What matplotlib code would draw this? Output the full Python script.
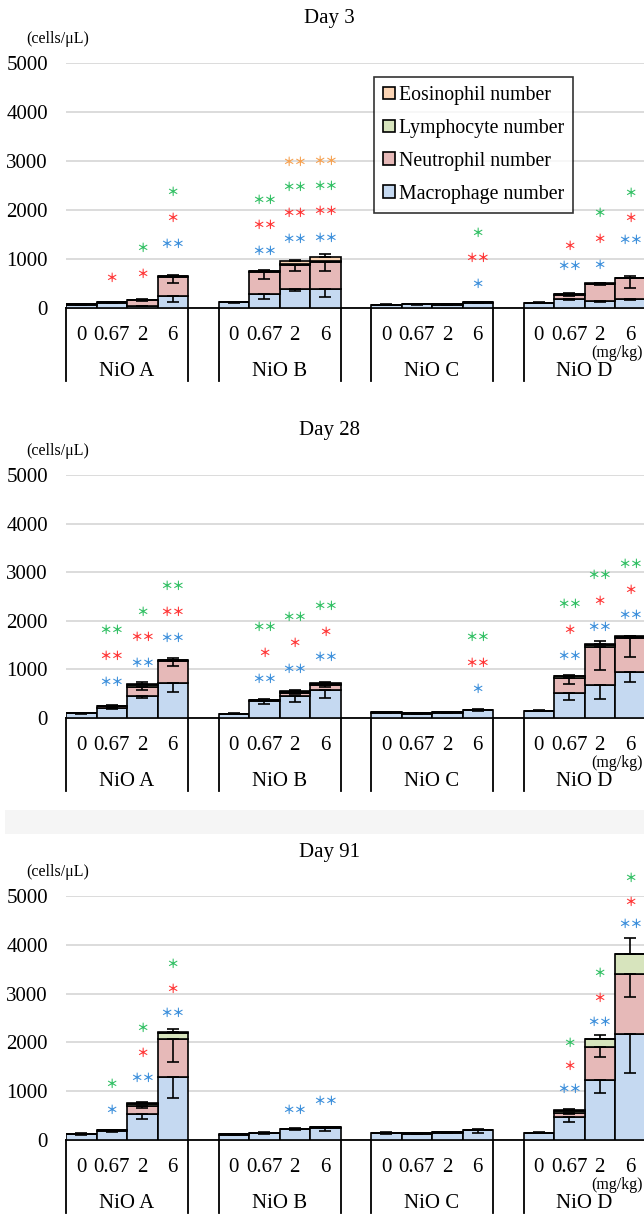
import numpy as np
import matplotlib.pyplot as plt
from matplotlib.patches import Rectangle

plt.rcParams['font.family'] = ['Liberation Serif', 'DejaVu Serif']

# --- DATA (cells/uL) ---
# 16 bars per panel: NiO A, B, C, D  x  dose 0, 0.67, 2, 6 mg/kg
groups = ["NiO A", "NiO B", "NiO C", "NiO D"]
doses = ["0", "0.67", "2", "6"]
days = ["Day 3", "Day 28", "Day 91"]
cell_names = ["Macrophage number", "Neutrophil number", "Lymphocyte number", "Eosinophil number"]

mac_d3 = [60, 110, 50, 248, 115, 290, 386, 393, 60, 75, 70, 105, 105, 193, 150, 185]
neu_d3 = [20, 14, 110, 393, 9, 448, 483, 538, 9, 8, 6, 15, 5, 70, 340, 420]
lym_d3 = [0, 0, 8, 8, 0, 12, 30, 25, 0, 0, 0, 0, 0, 15, 8, 10]
eos_d3 = [0, 0, 5, 6, 0, 9, 65, 85, 0, 0, 0, 0, 0, 12, 5, 6]
mac_err_d3 = [5, 8, 15, 131, 8, 97, 34, 165, 5, 5, 5, 10, 5, 34, 25, 20]
neu_err_d3 = [0, 0, 20, 138, 0, 152, 124, 179, 0, 0, 0, 0, 0, 20, 28, 193]
top_err_d3 = [5, 8, 10, 10, 5, 10, 20, 56, 5, 5, 5, 8, 5, 10, 10, 27]

mac_d28 = [95, 207, 462, 724, 85, 352, 455, 579, 110, 90, 108, 155, 145, 514, 678, 938]
neu_d28 = [8, 30, 172, 455, 5, 15, 62, 90, 13, 6, 8, 16, 6, 301, 774, 699]
lym_d28 = [0, 10, 55, 15, 0, 8, 25, 30, 0, 0, 0, 0, 0, 40, 60, 30]
eos_d28 = [0, 8, 8, 6, 0, 4, 10, 11, 0, 0, 0, 0, 0, 15, 9, 11]
mac_err_d28 = [8, 30, 48, 186, 5, 55, 117, 172, 10, 5, 5, 20, 5, 144, 294, 191]
neu_err_d28 = [0, 10, 48, 110, 0, 5, 20, 30, 0, 0, 0, 0, 0, 123, 473, 384]
top_err_d28 = [5, 10, 41, 28, 5, 10, 20, 21, 8, 5, 5, 10, 5, 20, 61, 14]

mac_d91 = [120, 190, 529, 1292, 110, 140, 225, 250, 140, 130, 148, 195, 145, 464, 1222, 2164]
neu_d91 = [11, 16, 172, 770, 7, 11, 9, 11, 10, 7, 9, 17, 5, 96, 689, 1235]
lym_d91 = [0, 0, 45, 140, 0, 0, 0, 0, 0, 0, 0, 0, 0, 40, 150, 410]
eos_d91 = [0, 0, 10, 4, 0, 0, 0, 0, 0, 0, 0, 0, 0, 14, 7, 7]
mac_err_d91 = [8, 25, 89, 426, 8, 15, 10, 64, 8, 8, 8, 50, 8, 95, 260, 799]
neu_err_d91 = [0, 0, 55, 454, 0, 0, 0, 0, 0, 0, 0, 0, 0, 34, 218, 464]
top_err_d91 = [5, 8, 28, 76, 5, 8, 8, 15, 5, 5, 5, 20, 5, 21, 89, 321]

# significance marks: (bar index, cell type, label, height in cells/uL)
sig_d3 = [(1, 'neu', '*', 612),
          (2, 'neu', '*', 694), (2, 'lym', '*', 1224),
          (3, 'mac', '**', 1306), (3, 'neu', '*', 1823), (3, 'lym', '*', 2361),
          (5, 'mac', '**', 1156), (5, 'neu', '**', 1680), (5, 'lym', '**', 2204),
          (6, 'mac', '**', 1408), (6, 'neu', '**', 1939), (6, 'lym', '**', 2463), (6, 'eos', '**', 2980),
          (7, 'mac', '**', 1429), (7, 'neu', '**', 1966), (7, 'lym', '**', 2483), (7, 'eos', '**', 3000),
          (11, 'mac', '*', 476), (11, 'neu', '**', 1014), (11, 'lym', '*', 1531),
          (13, 'mac', '**', 850), (13, 'neu', '*', 1259),
          (14, 'mac', '*', 871), (14, 'neu', '*', 1395), (14, 'lym', '*', 1925),
          (15, 'mac', '**', 1381), (15, 'neu', '*', 1837), (15, 'lym', '*', 2347)]
sig_d28 = [(1, 'mac', '**', 738), (1, 'neu', '**', 1276), (1, 'lym', '**', 1807),
           (2, 'mac', '**', 1124), (2, 'neu', '**', 1648), (2, 'lym', '*', 2179),
           (3, 'mac', '**', 1628), (3, 'neu', '**', 2166), (3, 'lym', '**', 2697),
           (5, 'mac', '**', 800), (5, 'neu', '*', 1331), (5, 'lym', '**', 1862),
           (6, 'mac', '**', 1007), (6, 'neu', '*', 1538), (6, 'lym', '**', 2069),
           (7, 'mac', '**', 1241), (7, 'neu', '*', 1766), (7, 'lym', '**', 2297),
           (11, 'mac', '*', 596), (11, 'neu', '**', 1123), (11, 'lym', '**', 1658),
           (13, 'mac', '**', 1267), (13, 'neu', '*', 1795), (13, 'lym', '**', 2329),
           (14, 'mac', '**', 1870), (14, 'neu', '*', 2404), (14, 'lym', '**', 2932),
           (15, 'mac', '**', 2103), (15, 'neu', '*', 2630), (15, 'lym', '**', 3164)]
sig_d91 = [(1, 'mac', '*', 600), (1, 'lym', '*', 1138),
           (2, 'mac', '**', 1269), (2, 'neu', '*', 1779), (2, 'lym', '*', 2290),
           (3, 'mac', '**', 2600), (3, 'neu', '*', 3090), (3, 'lym', '*', 3607),
           (6, 'mac', '**', 614), (7, 'mac', '**', 800),
           (13, 'mac', '**', 1038), (13, 'neu', '*', 1502), (13, 'lym', '*', 1980),
           (14, 'mac', '**', 2403), (14, 'neu', '*', 2901), (14, 'lym', '*', 3406),
           (15, 'mac', '**', 4416), (15, 'neu', '*', 4867), (15, 'lym', '*', 5358)]

panels = [
    (mac_d3, neu_d3, lym_d3, eos_d3, mac_err_d3, neu_err_d3, top_err_d3, sig_d3),
    (mac_d28, neu_d28, lym_d28, eos_d28, mac_err_d28, neu_err_d28, top_err_d28, sig_d28),
    (mac_d91, neu_d91, lym_d91, eos_d91, mac_err_d91, neu_err_d91, top_err_d91, sig_d91),
]

# --- STYLE ---
bar_colors = ['#C5D9F1', '#E6B9B8', '#D7E4BD', '#FCD5B5']
star_colors = {'mac': '#3A8EDB', 'neu': '#FF3434', 'lym': '#2FBF62', 'eos': '#F6A04E'}

W, H = 644, 1214
left_px = 66
slot_px = 30.5
zero_px = [308, 718, 1140]     # pixel row of y=0 per panel
top_px = [63, 475, 896]        # pixel row of y=5000 per panel
fs = 15

fig = plt.figure(figsize=(W / 100, H / 100), dpi=100)

# faint grey strip above the Day 91 panel
fig.patches.append(Rectangle((5 / W, 1 - 834 / H), (W - 5) / W, 24 / H,
                             transform=fig.transFigure, facecolor='#F5F5F5',
                             edgecolor='none', zorder=-5))

idx = np.arange(16)
xpos = 5 * (idx // 4) + (idx % 4) + 0.5

for p, (mac, neu, lym, eos, mac_err, neu_err, top_err, sig) in enumerate(panels):
    h_px = zero_px[p] - top_px[p]
    ax = fig.add_axes([left_px / W, (H - zero_px[p]) / H, (W - left_px) / W, h_px / H])
    ax.set_facecolor('none')

    mac = np.array(mac); neu = np.array(neu); lym = np.array(lym); eos = np.array(eos)
    bottoms = [np.zeros(16), mac, mac + neu, mac + neu + lym]
    for k, vals in enumerate([mac, neu, lym, eos]):
        ax.bar(xpos, vals, width=1.0, bottom=bottoms[k], color=bar_colors[k],
               edgecolor='black', linewidth=1.2, label=cell_names[k], zorder=3)

    z = np.zeros(16)
    ekw = dict(fmt='none', ecolor='black', elinewidth=1.2, capsize=4.5, capthick=1.2, zorder=4)
    ax.errorbar(xpos, mac, yerr=[mac_err, z], **ekw)
    ax.errorbar(xpos, mac + neu, yerr=[neu_err, z], **ekw)
    ax.errorbar(xpos, mac + neu + lym + eos, yerr=[z, top_err], **ekw)

    # significance stars
    for (bi, kind, lab, yv) in sig:
        ax.text(xpos[bi], yv, lab.replace('*', '＊'), color=star_colors[kind],
                family=['Noto Sans CJK JP', 'DejaVu Sans'], fontsize=8.8, fontweight='bold',
                ha='center', va='center', zorder=5, clip_on=False)

    ax.set_xlim(0, (W - left_px) / slot_px)
    ax.set_ylim(0, 5000)
    ax.set_yticks(range(0, 5001, 1000))
    ax.set_xticks([])
    ax.tick_params(axis='y', length=0, pad=13, labelsize=fs)
    ax.yaxis.grid(True, color='#D9D9D9', linewidth=1.3, zorder=0)
    ax.set_axisbelow(True)
    for s in ['left', 'right', 'top']:
        ax.spines[s].set_visible(False)
    ax.spines['bottom'].set_linewidth(1.3)

    # category boxes below the axis
    tr = ax.get_xaxis_transform()
    for g in range(4):
        for xe in (5 * g, 5 * g + 4):
            ax.plot([xe, xe], [0, -73 / h_px], transform=tr, clip_on=False,
                    color='black', linewidth=1.3)
        ax.annotate(groups[g], xy=(5 * g + 2, 0), xycoords=tr, xytext=(0, -63),
                    textcoords='offset pixels', ha='center', va='center', fontsize=fs)
    for i in range(16):
        ax.annotate(doses[i % 4], xy=(xpos[i], 0), xycoords=tr, xytext=(0, -28),
                    textcoords='offset pixels', ha='center', va='center', fontsize=fs)
    ax.annotate('(mg/kg)', xy=(18.05, 0), xycoords=tr, xytext=(0, -45),
                textcoords='offset pixels', ha='center', va='center', fontsize=11.5)

    fig.text(58 / W, 1 - (top_px[p] - 24) / H, '(cells/μL)', ha='center', va='center', fontsize=11.5)
    fig.text(329 / W, 1 - (top_px[p] - 44) / H, days[p], ha='center', va='center', fontsize=fs)

    if p == 0:
        hs, ls = ax.get_legend_handles_labels()
        leg = ax.legend(hs[::-1], ls[::-1], loc='upper left',
                        bbox_to_anchor=((374 - left_px) / (W - left_px), (zero_px[0] - 77) / h_px),
                        borderaxespad=0, fontsize=14.3, frameon=True, fancybox=False,
                        edgecolor='black', handlelength=0.6, handleheight=0.6,
                        handletextpad=0.2, labelspacing=0.7, borderpad=0.45)
        leg.get_frame().set_linewidth(1.2)
        leg.set_zorder(6)

fig.savefig('out.png', dpi=100)
